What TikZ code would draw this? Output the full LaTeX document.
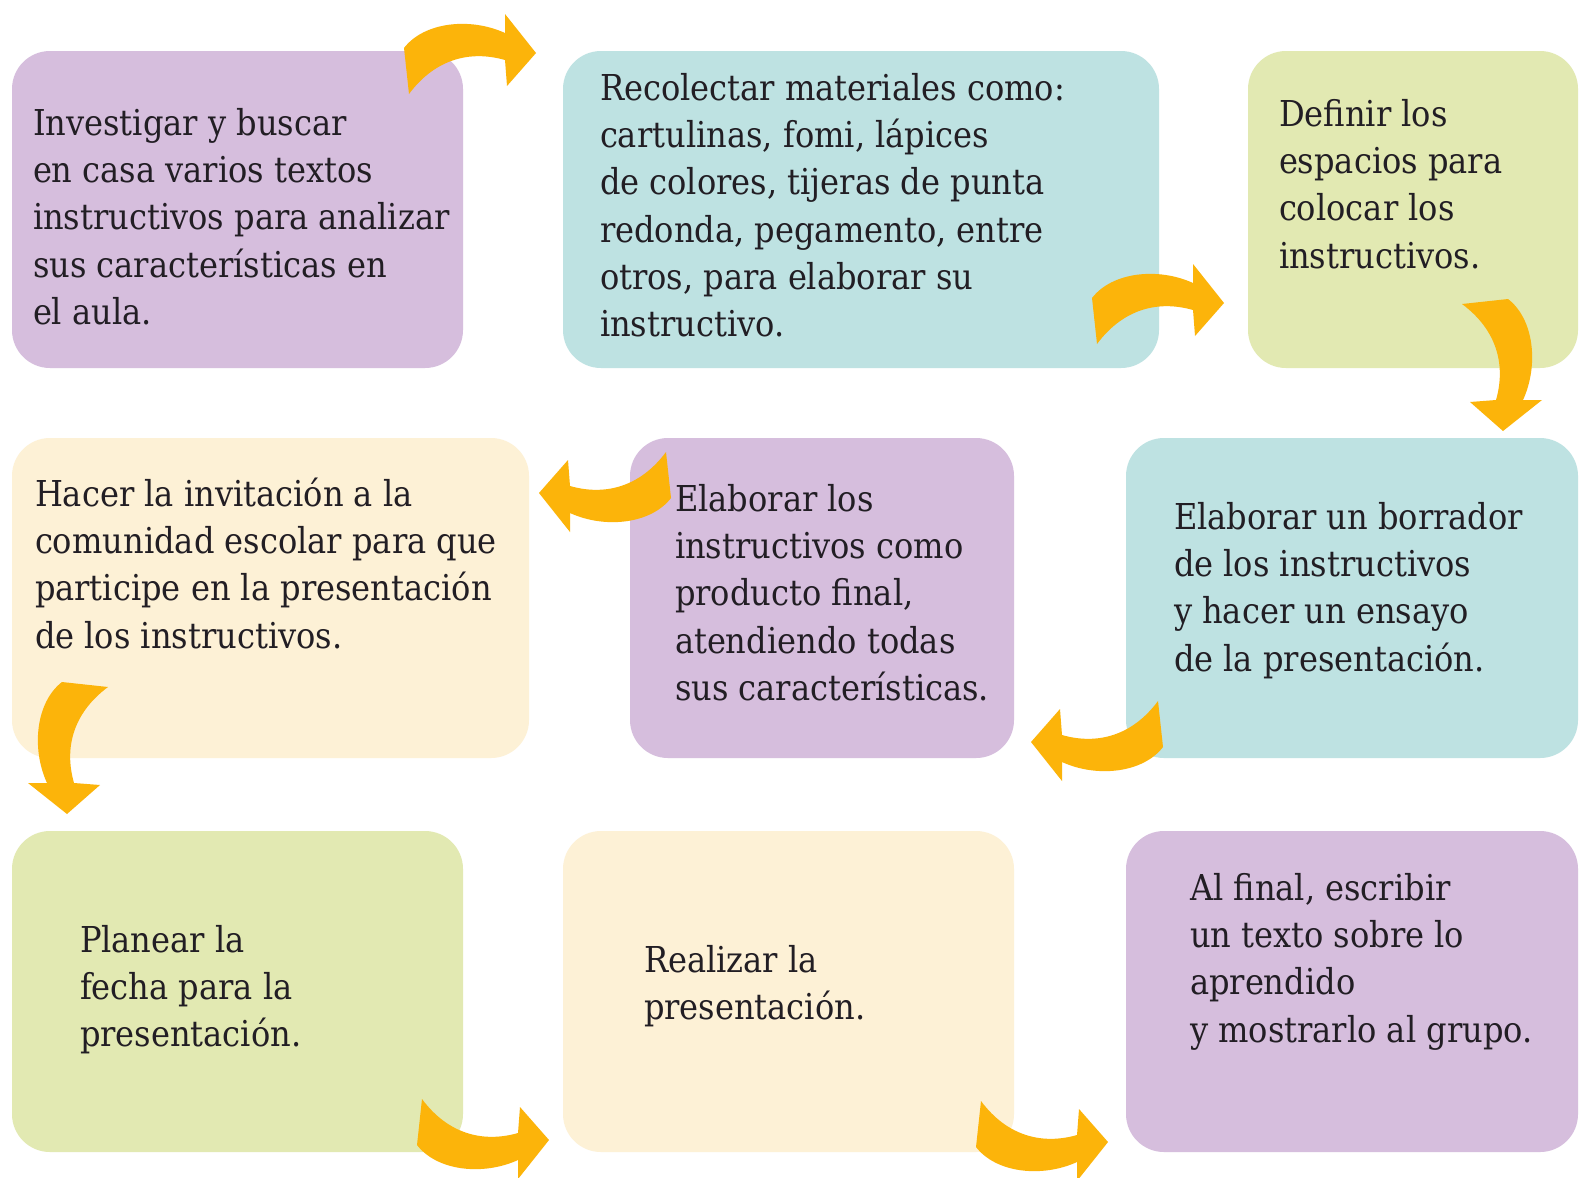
\documentclass[tikz,border=0pt]{standalone}
\usepackage{fontspec}
\setmainfont{DejaVu Serif Condensed}
\definecolor{cpurple}{RGB}{214,190,221}
\definecolor{cteal}{RGB}{190,226,226}
\definecolor{cgreen}{RGB}{226,233,178}
\definecolor{ccream}{RGB}{253,241,214}
\definecolor{corange}{RGB}{252,180,10}
\definecolor{ctext}{RGB}{34,30,36}
\newcommand\cardlines[1]{\begin{tabular}[t]{@{}l@{}}#1\end{tabular}}
\begin{document}
\begin{tikzpicture}[x=0.02cm, y=-0.02cm,
  card/.style={rounded corners=0.76cm, inner sep=0pt, outer sep=0pt, draw=none},
  cardtext/.style={anchor=base west, inner sep=0pt, outer sep=0pt, text=ctext,
    font=\fontsize{20.3pt}{26.97pt}\selectfont},
  pics/bentarrow/.style={code={
    \fill[corange] (-66,-4) .. controls (-46,-30) and (0,-35) .. (35,-19)
      -- (35,-38) -- (66,1) -- (37,34) -- (35,8)
      .. controls (0,-2) and (-35,7) .. (-61,42) -- cycle;
  }}]
\useasboundingbox (0,0) rectangle (1584,1177);
\fill[white] (0,0) rectangle (1584,1177);
% cards
\newcommand\card[6]{%
  \node[card, fill=#6, minimum width={(#4-#2)*0.02cm}, minimum height={(#5-#3)*0.02cm}]
    (#1) at ({(#2+#4)/2},{(#3+#5)/2}) {};}
\card{b1}{12}{51}{463}{368}{cpurple}
\card{b2}{563}{51}{1159}{368}{cteal}
\card{b3}{1248}{51}{1578}{368}{cgreen}
\card{b4}{12}{438}{529}{758}{ccream}
\card{b5}{630}{438}{1014}{758}{cpurple}
\card{b6}{1126}{438}{1578}{758}{cteal}
\card{b7}{12}{831}{463}{1152}{cgreen}
\card{b8}{563}{831}{1014}{1152}{ccream}
\card{b9}{1126}{831}{1578}{1152}{cpurple}
% texts
\node[cardtext] (t1) at (33,135) {\cardlines{Investigar y buscar\\ en casa varios textos\\ instructivos para analizar\\ sus características en\\ el aula.}};
\node[cardtext] (t2) at (600,100) {\cardlines{Recolectar materiales como:\\ cartulinas, fomi, lápices\\ de colores, tijeras de punta\\ redonda, pegamento, entre\\ otros, para elaborar su\\ instructivo.}};
\node[cardtext] (t3) at (1279,126) {\cardlines{Definir los\\ espacios para\\ colocar los\\ instructivos.}};
\node[cardtext] (t4) at (35,506) {\cardlines{Hacer la invitación a la\\ comunidad escolar para que\\ participe en la presentación\\ de los instructivos.}};
\node[cardtext] (t5) at (675,511) {\cardlines{Elaborar los\\ instructivos como\\ producto final,\\ atendiendo todas\\ sus características.}};
\node[cardtext] (t6) at (1174,529) {\cardlines{Elaborar un borrador\\ de los instructivos\\ y hacer un ensayo\\ de la presentación.}};
\node[cardtext] (t7) at (80,952) {\cardlines{Planear la\\ fecha para la\\ presentación.}};
\node[cardtext] (t8) at (644,972) {\cardlines{Realizar la\\ presentación.}};
\node[cardtext] (t9) at (1190,900) {\cardlines{Al final, escribir\\ un texto sobre lo\\ aprendido\\ y mostrarlo al grupo.}};
% arrows
\pic at (470,52) {bentarrow};
\pic at (1158,302) {bentarrow};
\pic[rotate=-90] at (1504,365) {bentarrow};
\pic[rotate=180] at (605,494) {bentarrow};
\pic[rotate=180] at (1097,743) {bentarrow};
\pic[xscale=-1, rotate=-90] at (66,748) {bentarrow};
\pic[yscale=-1] at (483,1141) {bentarrow};
\pic[yscale=-1] at (1042,1143) {bentarrow};
\end{tikzpicture}
\end{document}
